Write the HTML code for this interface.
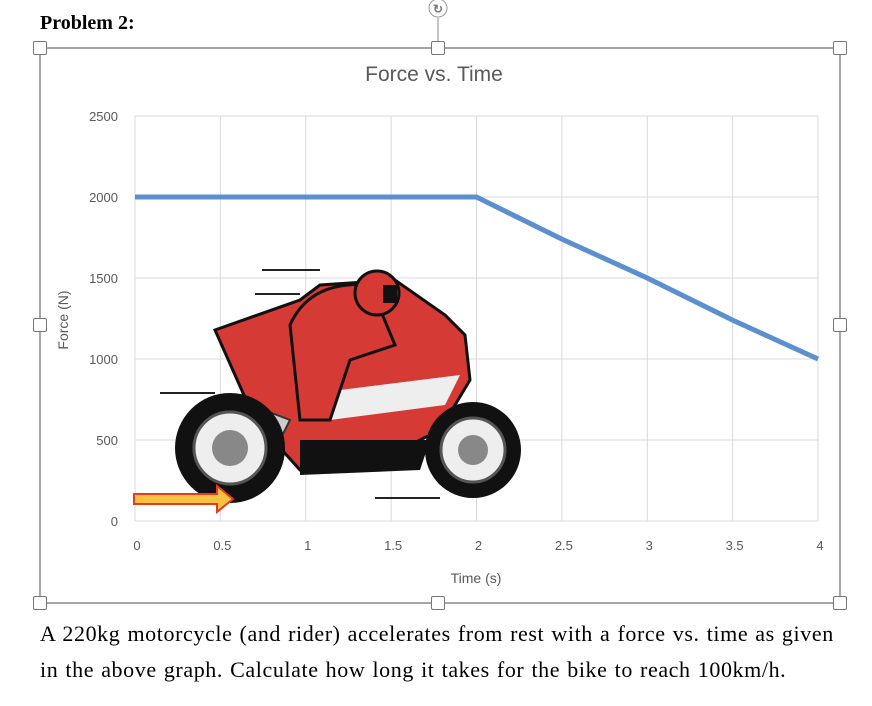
<!DOCTYPE html>
<html><head><meta charset="utf-8"><style>
body{margin:0;width:872px;height:706px;background:#fff;overflow:hidden;position:relative;font-family:"Liberation Sans",sans-serif}
.h{position:absolute;width:12px;height:12px;border:1px solid #777;background:#fff;border-radius:2px}
</style></head><body>
<div style="position:absolute;left:40px;top:12px;font:bold 20px 'Liberation Serif',serif">Problem 2:</div>
<svg width="872" height="706" style="position:absolute;left:0;top:0">
<rect x="40" y="48" width="800" height="555" fill="none" stroke="#888" stroke-width="1.5"/>
<line x1="438" y1="18" x2="438" y2="48" stroke="#888"/>
<circle cx="438" cy="8" r="9" fill="#fff" stroke="#999"/>
<text x="438" y="13" text-anchor="middle" font-size="12" fill="#777" font-weight="bold">↻</text>
<text x="434" y="81" text-anchor="middle" font-size="21" fill="#595959">Force vs. Time</text>
<g id="grid"></g><g id="ticks"></g>
<text x="476" y="583" text-anchor="middle" font-size="14" fill="#595959">Time (s)</text>
<text transform="translate(68,320) rotate(-90)" text-anchor="middle" font-size="14" fill="#595959">Force (N)</text>
<g>
<path d="M215,330 L300,300 L320,285 L395,280 L445,315 L465,335 L470,380 L440,430 L360,470 L300,470 L255,420 Z" fill="#d63a35" stroke="#111" stroke-width="3"/>
<path d="M300,395 L460,375 L445,405 L330,420 Z" fill="#eee"/>
<path d="M290,325 Q310,280 370,285 L395,345 L350,360 L330,420 L300,420 Z" fill="#d63a35" stroke="#111" stroke-width="3"/>
<circle cx="377" cy="293" r="22" fill="#d63a35" stroke="#111" stroke-width="3"/>
<rect x="383" y="285" width="14" height="18" fill="#111"/>
<path d="M225,395 L290,420 L280,440 L215,415 Z" fill="#ccc" stroke="#333" stroke-width="2"/>
<path d="M300,440 L430,440 L420,470 L300,475 Z" fill="#111"/>
<circle cx="230" cy="448" r="55" fill="#111"/><circle cx="230" cy="448" r="36" fill="#eee" stroke="#555" stroke-width="3"/><circle cx="230" cy="448" r="18" fill="#888"/>
<circle cx="473" cy="450" r="48" fill="#111"/><circle cx="473" cy="450" r="32" fill="#eee" stroke="#555" stroke-width="3"/><circle cx="473" cy="450" r="15" fill="#888"/>
<line x1="262" y1="270" x2="320" y2="270" stroke="#222" stroke-width="2"/>
<line x1="255" y1="294" x2="300" y2="294" stroke="#222" stroke-width="2"/>
<line x1="160" y1="393" x2="215" y2="393" stroke="#222" stroke-width="2"/>
<line x1="375" y1="498" x2="440" y2="498" stroke="#222" stroke-width="2"/>
</g>
<path d="M134,494 L217,494 L217,486 L233,499 L217,512 L217,504 L134,504 Z" fill="#f7c242" stroke="#e53a1f" stroke-width="2"/>
<polyline id="series" fill="none" stroke="#5b8fd0" stroke-width="5"/>
</svg>
<div class="h" style="left:33px;top:41px"></div>
<div class="h" style="left:431px;top:41px"></div>
<div class="h" style="left:833px;top:41px"></div>
<div class="h" style="left:33px;top:318px"></div>
<div class="h" style="left:833px;top:318px"></div>
<div class="h" style="left:33px;top:596px"></div>
<div class="h" style="left:431px;top:596px"></div>
<div class="h" style="left:833px;top:596px"></div>
<div style="position:absolute;left:40px;top:616px;width:832px;white-space:nowrap;font:22px 'Liberation Serif',serif;line-height:36px;letter-spacing:0.6px;word-spacing:1px">A 220kg motorcycle (and rider) accelerates from rest with a force vs. time as given<br>in the above graph. Calculate how long it takes for the bike to reach 100km/h.</div>
<script>
const times=[0,0.5,1,1.5,2,2.5,3,3.5,4];
const forces=[2000,2000,2000,2000,2000,1740,1500,1240,1000];
const xTicks=[0,0.5,1,1.5,2,2.5,3,3.5,4];
const yTicks=[0,500,1000,1500,2000,2500];
const X=v=>135+v*(818-135)/4, Y=v=>521-v*(521-116)/2500;
const ns='http://www.w3.org/2000/svg';
const g=document.getElementById('grid'),t=document.getElementById('ticks');
function mk(p,tag,a,txt){const e=document.createElementNS(ns,tag);for(const k in a)e.setAttribute(k,a[k]);if(txt!==undefined)e.textContent=txt;p.appendChild(e);return e;}
xTicks.forEach(v=>{
 const l=mk(g,'line',{x1:X(v),x2:X(v),y1:Y(2500),y2:Y(0),stroke:'#d9d9d9'});
 
 
 const s=mk(t,'text',{x:X(v)+2,y:550,'text-anchor':'middle','font-size':13,fill:'#595959'},String(v));
 
 
});
yTicks.forEach(v=>{
 const l=mk(g,'line',{x1:X(0),x2:X(4),y1:Y(v),y2:Y(v),stroke:'#d9d9d9'});
 
 
 const s=mk(t,'text',{x:118,y:Y(v)+5,'text-anchor':'end','font-size':13,fill:'#595959'},String(v));
 
 
});
document.getElementById('series').setAttribute('points',times.map((x,i)=>X(x)+','+Y(forces[i])).join(' '));
</script>
</body></html>
